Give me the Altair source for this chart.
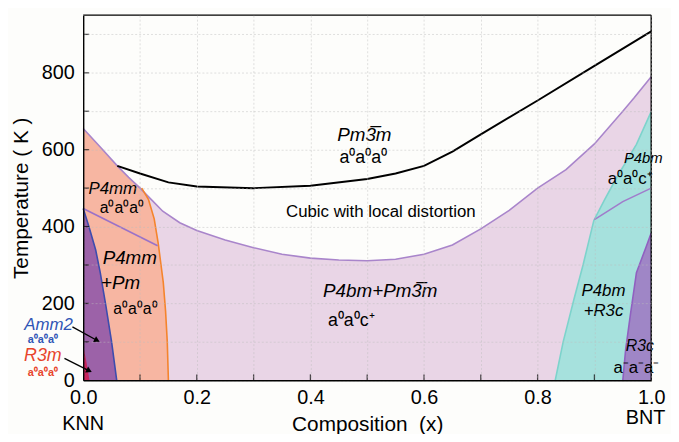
import altair as alt
import pandas as pd

# ---------------- data ----------------
X_DOMAIN = [0, 1]
Y_DOMAIN = [0, 950]

# Pm-3m / cubic-with-local-distortion boundary (black)
cubic_x = [0.06, 0.10, 0.15, 0.20, 0.30, 0.40, 0.50, 0.55, 0.60, 0.65, 0.70, 0.80, 0.90, 1.00]
cubic_T = [558, 538, 515, 504, 500, 506, 524, 538, 558, 595, 640, 728, 818, 908]

# upper boundary of the P4bm+Pm-3m (pink) region
upper_x = [0, 0.03, 0.06, 0.08, 0.10, 0.12, 0.14, 0.17, 0.20, 0.25, 0.30, 0.35, 0.40, 0.45,
           0.50, 0.55, 0.60, 0.65, 0.70, 0.75, 0.80, 0.85, 0.90, 0.95, 0.97, 1.00]
upper_T = [655, 607, 558, 528, 500, 470, 440, 410, 390, 365, 345, 328, 318, 313,
           311, 315, 328, 352, 394, 442, 500, 548, 615, 700, 735, 790]

# P4mm(+Pm) right boundary (orange line), T ascending
orange_T = [0, 100, 180, 254, 300, 357, 420, 470, 500]
orange_x = [0.150, 0.148, 0.145, 0.141, 0.137, 0.132, 0.125, 0.115, 0.103]

# Amm2 right boundary (blue line)
amm2_T = [0, 100, 193, 280, 339, 400, 447]
amm2_x = [0.059, 0.050, 0.040, 0.030, 0.022, 0.010, 0.0]

# R3m sliver
r3m_T = [0, 45, 90]
r3m_x = [0.011, 0.006, 0.0]

# P4mm / P4mm+Pm separator
sep_x = [0.0, 0.131]
sep_T = [447, 350]

# P4bm+R3c left boundary (cyan)
cyan_T = [0, 100, 211, 300, 416, 470, 527, 614, 699]
cyan_x = [0.831, 0.845, 0.864, 0.880, 0.899, 0.918, 0.939, 0.974, 1.0]

# P4bm / P4bm+R3c separator
inner_x = [0.90, 0.95, 1.00]
inner_T = [418, 465, 500]

# R3c left boundary
r3c_T = [0, 80, 167, 280, 347, 383]
r3c_x = [0.950, 0.955, 0.963, 0.974, 0.991, 1.0]

# axis values
x_grid = [0.0, 0.1, 0.2, 0.3, 0.4, 0.5, 0.6, 0.7, 0.8, 0.9, 1.0]
y_grid = [0, 100, 200, 300, 400, 500, 600, 700, 800, 900]

# annotation arrows (tail -> head)
arrow_x0 = [-0.019, -0.033]
arrow_T0 = [139, 57]
arrow_x1 = [0.023, 0.009]
arrow_T1 = [105, 26]

SUP0 = "a\u2070a\u2070a\u2070"

# ---------------- helpers ----------------
FONT = "Liberation Sans"
xs = alt.Scale(domain=X_DOMAIN, nice=False, zero=False)
ys = alt.Scale(domain=Y_DOMAIN, nice=False, zero=False)


def X(f="x", **kw):
    return alt.X(f"{f}:Q", scale=xs, **kw)


def Y(f="T", **kw):
    return alt.Y(f"{f}:Q", scale=ys, **kw)


def df_xy(xv, tv):
    return pd.DataFrame({"x": xv, "T": tv, "i": list(range(len(xv)))})


def line(xv, tv, color, width=1.6):
    return alt.Chart(df_xy(xv, tv)).mark_line(color=color, strokeWidth=width).encode(
        x=X(), y=Y(), order="i:Q")


def harea(tv, xv, color, to_right=False):
    d = pd.DataFrame({"T": tv, "x": xv})
    edge = X_DOMAIN[1] if to_right else X_DOMAIN[0]
    return alt.Chart(d).mark_area(orient="horizontal", color=color, opacity=1).encode(
        y=Y(), x=X(), x2=alt.datum(edge))


# ---------------- layers ----------------
pink = alt.Chart(df_xy(upper_x, upper_T)).mark_area(color="#e9d5e6", opacity=1).encode(
    x=alt.X("x:Q", scale=xs, axis=alt.Axis(
        values=x_grid,
        labelExpr="round(datum.value*10)%2==0 ? format(datum.value,'.1f') : ''",
        title="Composition\u00a0\u00a0(x)", grid=True, ticks=False, domain=True,
        domainColor="black", domainWidth=1.4, labelFlush=False, labelOverlap=False,
        labelPadding=7, titlePadding=7, zindex=1)),
    y=alt.Y("T:Q", scale=ys, axis=alt.Axis(
        values=y_grid,
        labelExpr="datum.value%200==0 && datum.value<=800 ? datum.value : ''",
        title="Temperature\u00a0(\u00a0K\u00a0)", grid=True, ticks=False, domain=True,
        domainColor="black", domainWidth=1.4, labelOverlap=False,
        labelPadding=9, titlePadding=10, zindex=1)),
    y2=alt.datum(0))

# orange region: orange line below 500 K, then the upper purple line
o_T = list(orange_T) + [t for t, x in zip(upper_T[::-1], upper_x[::-1]) if x < 0.1]
o_x = list(orange_x) + [x for t, x in zip(upper_T[::-1], upper_x[::-1]) if x < 0.1]
orange = harea(o_T, o_x, "#f7b6a2")
amm2 = harea(amm2_T, amm2_x, "#9c62a8")
r3m = harea(r3m_T, r3m_x, "#c8245c")
cyan = harea(cyan_T, cyan_x, "#a6e1dd", to_right=True)
r3c = harea(r3c_T, r3c_x, "#9f86c6", to_right=True)

lines = [
    line(upper_x, upper_T, "#a985cb"),
    line(orange_x, orange_T, "#f5842c"),
    line(amm2_x, amm2_T, "#3d4cae"),
    line(sep_x, sep_T, "#9a72c8"),
    line(cyan_x, cyan_T, "#7dd3cc"),
    line(inner_x, inner_T, "#a07ccb"),
    line(r3c_x, r3c_T, "#9060c0"),
    line(cubic_x, cubic_T, "black", 2),
]

# frame (top & right)
frame_r = alt.Chart(pd.DataFrame({"x": [X_DOMAIN[1]]})).mark_rule(color="black", strokeWidth=1.4).encode(x=X())
frame_t = alt.Chart(pd.DataFrame({"T": [Y_DOMAIN[1]]})).mark_rule(color="black", strokeWidth=1.4).encode(y=Y())

# inward ticks
xt = alt.Chart(pd.DataFrame({"x": x_grid[1:-1]})).mark_tick(
    color="black", size=6, thickness=1.3).encode(x=X(), y=alt.value(369 - 3))
yt = alt.Chart(pd.DataFrame({"T": y_grid[1:]})).mark_tick(
    color="black", size=6, thickness=1.3).encode(y=Y(), x=alt.value(3))

# arrows
arr = pd.DataFrame({"x": arrow_x0, "T": arrow_T0, "x2": arrow_x1, "T2": arrow_T1})
arrows = alt.Chart(arr).mark_rule(color="black", strokeWidth=1.3).encode(
    x=X(), y=Y(), x2="x2:Q", y2="T2:Q")
heads = alt.Chart(arr).mark_point(shape="triangle", filled=True, color="black",
                                  size=45, angle=117, opacity=1).encode(x=X("x2"), y=Y("T2"))


def txt(xv, tv, s, size, color="black", italic=False, bold=False):
    d = pd.DataFrame({"x": [xv], "T": [tv], "s": [s]})
    return alt.Chart(d).mark_text(
        font=FONT, fontSize=size, color=color,
        fontStyle="italic" if italic else "normal",
        fontWeight="bold" if bold else "normal", align="center", baseline="middle"
    ).encode(x=X(), y=Y(), text="s:N")


texts = [
    txt(0.495, 637, "Pm3\u0305m", 19, italic=True),
    txt(0.493, 578, SUP0, 18),
    txt(0.524, 437, "Cubic with local distortion", 17),
    txt(0.523, 231, "P4bm+Pm3\u0305m", 19, italic=True),
    txt(0.472, 154, "a\u2070a\u2070c\u207a", 18),
    txt(0.052, 498, "P4mm", 17, italic=True),
    txt(0.068, 447, SUP0, 16),
    txt(0.082, 318, "P4mm", 19, italic=True),
    txt(0.066, 254, "+Pm", 19, italic=True),
    txt(0.092, 185, SUP0, 16),
    txt(-0.061, 143, "Amm2", 17, color="#2f55b5", italic=True),
    txt(-0.071, 106, SUP0, 11, color="#2f55b5", bold=True),
    txt(-0.071, 64, "R3m", 18, color="#e8452c", italic=True),
    txt(-0.071, 18, SUP0, 11, color="#e8452c", bold=True),
    txt(0.986, 578, "P4bm", 15, italic=True),
    txt(0.963, 524, "a\u2070a\u2070c\u207a", 17),
    txt(0.916, 231, "P4bm", 17, italic=True),
    txt(0.916, 180, "+R3c", 17, italic=True),
    txt(0.980, 90, "R3c", 16, italic=True),
    txt(0.974, 31, "a\u207ba\u207ba\u207b", 17),
    txt(0.0, -114, "KNN", 20),
    txt(0.99, -97, "BNT", 20),
]

chart = alt.layer(
    pink, orange, amm2, r3m, cyan, r3c, *lines, frame_r, frame_t, xt, yt,
    arrows, heads, *texts
).properties(
    width=574, height=369,
    autosize=alt.AutoSizeParams(type="none"),
    padding={"left": 76, "top": 5, "right": 20, "bottom": 52},
    background="#fdfdfb",
).configure_view(stroke=None).configure_axis(
    labelFont=FONT, titleFont=FONT, labelFontSize=20, titleFontSize=21,
    labelColor="black", titleColor="black", titleFontWeight="normal",
    gridColor="#bdbdbd", gridDash=[2, 2], gridOpacity=0.6, gridWidth=0.8,
)

chart.save("out.html", embed_options={"renderer": "svg", "actions": False})
